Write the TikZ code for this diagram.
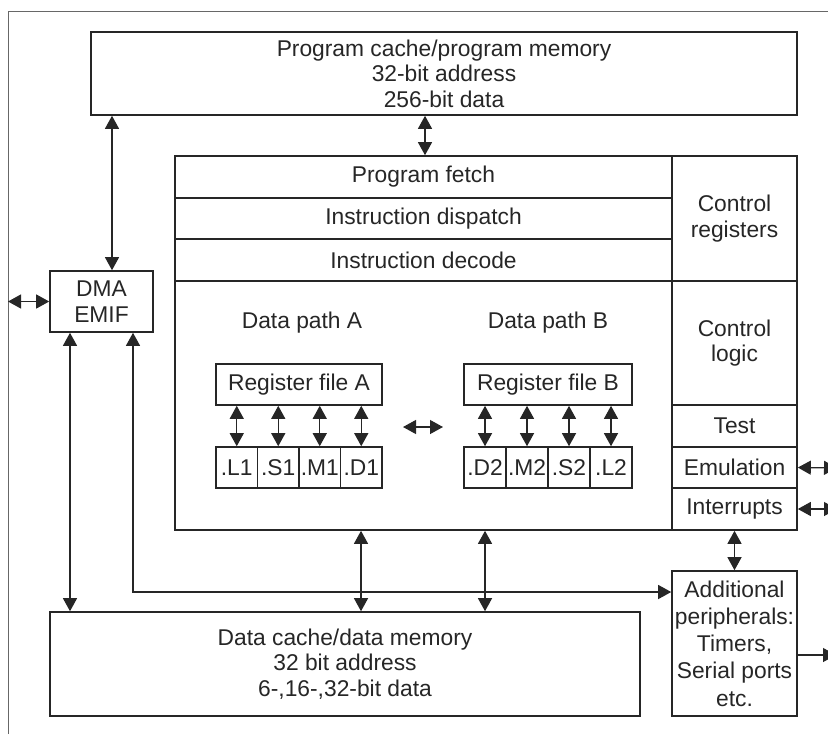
\documentclass[tikz,border=0pt]{standalone}
\usepackage{fontspec}
\setmainfont{Liberation Sans}
\usetikzlibrary{arrows.meta,fit}
\definecolor{ink}{HTML}{262626}
\tikzset{
  blk/.style={draw=ink, line width=0.8pt, inner sep=0pt},
  lbl/.style={text=ink, inner sep=0pt, align=center},
  both/.style={draw=ink, line width=0.6pt, {Triangle[length=6.5pt,width=7pt]}-{Triangle[length=6.5pt,width=7pt]}},
  tip/.style={draw=ink, line width=0.6pt, -{Triangle[length=6.5pt,width=7pt]}},
}

\begin{document}
\begin{tikzpicture}[x=0.5pt,y=-0.5pt,font=\fontsize{11.4}{12.8}\selectfont]
\useasboundingbox (0,0) rectangle (828,734);
% page frame
\draw[ink!70, line width=0.5pt] (8,734) -- (8,11) -- (828,11);

% memories and side blocks
\node[blk, fit={(91,32) (797,115)}, label={[lbl]center:Program cache/program memory\\32-bit address\\256-bit data}] (pmem) {};
\node[blk, fit={(50,612) (640,716)}, label={[lbl]center:Data cache/data memory\\32 bit address\\6-,16-,32-bit data}] (dmem) {};
\node[blk, fit={(50,271) (153,332)}, label={[lbl]center:DMA\\EMIF}] (dma) {};
\node[blk, fit={(672,571) (797,716)}, label={[lbl, font=\fontsize{11.4}{13.6}\selectfont]center:Additional\\peripherals:\\Timers,\\Serial ports\\etc.}] (periph) {};

% CPU core
\node[blk, fit={(175,156) (797,530)}] (cpu) {};
\node[blk, fit={(175,156) (672,198)}, label={[lbl]center:Program fetch}] (fetch) {};
\node[blk, fit={(175,198) (672,239)}, label={[lbl]center:Instruction dispatch}] (dispatch) {};
\node[blk, fit={(175,239) (672,281)}, label={[lbl]center:Instruction decode}] (decode) {};
\node[blk, fit={(672,156) (797,281)}, label={[lbl]center:Control\\registers}] (ctrlreg) {};
\node[blk, fit={(672,281) (797,405)}, label={[lbl]center:Control\\logic}] (ctrllog) {};
\node[blk, fit={(672,405) (797,447)}, label={[lbl]center:Test}] (test) {};
\node[blk, fit={(672,447) (797,488)}, label={[lbl]center:Emulation}] (emul) {};
\node[blk, fit={(672,488) (797,530)}, label={[lbl]center:Interrupts}] (intr) {};

% data paths
\node[lbl] (dpa) at (302,323) {Data path A};
\node[lbl] (dpb) at (548,323) {Data path B};
\node[blk, fit={(216,364) (382,405)}, label={[lbl]center:Register file A}] (regA) {};
\node[blk, fit={(464,364) (632,405)}, label={[lbl]center:Register file B}] (regB) {};
\foreach \u [count=\i from 0] in {L1,S1,M1,D1} {
  \node[blk, fit={({216+41.5*\i},447) ({257.5+41.5*\i},488)}, label={[lbl]center:.\u}] (u\u) {};
  \draw[both] (regA.south -| u\u.north) -- (u\u.north);
}
\foreach \u [count=\i from 0] in {D2,M2,S2,L2} {
  \node[blk, fit={({464+42*\i},447) ({506+42*\i},488)}, label={[lbl]center:.\u}] (u\u) {};
  \draw[both] (regB.south -| u\u.north) -- (u\u.north);
}
\coordinate (xa) at (403,427);
\coordinate (xb) at (443,427);
\draw[both] (xa) -- (xb);

% buses
\coordinate (lext) at (8,301.5);
\coordinate (rext1) at (837,468);
\coordinate (rext2) at (837,509);
\coordinate (rext3) at (836,655);
\draw[both] (lext) -- (dma.west);
\draw[both] (dma.north -| 112,0) -- (pmem.south -| 112,0);
\draw[both] (pmem.south -| 425,0) -- (cpu.north -| 425,0);
\draw[both] (dma.south -| 70,0) -- (dmem.north -| 70,0);
\draw[both] (dma.south -| 133,0) -- (133,592) -- (periph.west |- 0,592);
\draw[both] (cpu.south -| 361,0) -- (dmem.north -| 361,0);
\draw[both] (cpu.south -| 485,0) -- (dmem.north -| 485,0);
\draw[both] (intr.south) -- (periph.north);
\draw[both] (emul.east) -- (rext1);
\draw[both] (intr.east) -- (rext2);
\draw[tip] (periph.east |- rext3) -- (rext3);
\end{tikzpicture}
\end{document}
